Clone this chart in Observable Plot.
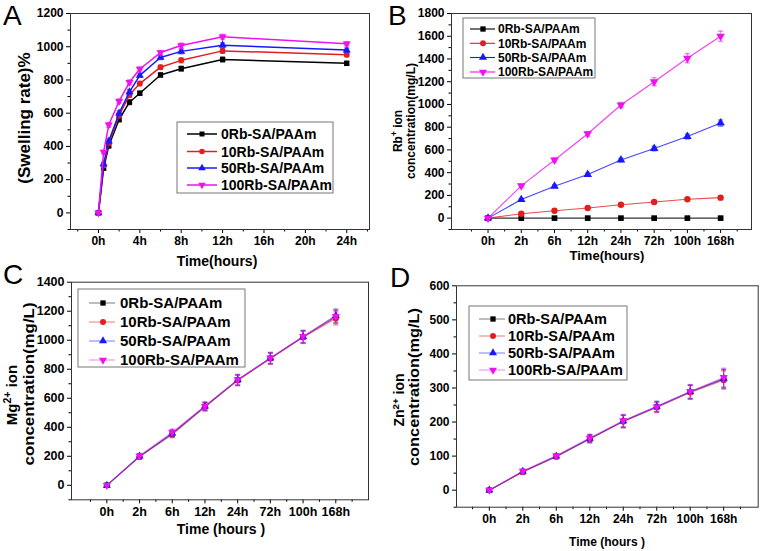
<!DOCTYPE html>
<html><head><meta charset="utf-8">
<script src="https://cdn.jsdelivr.net/npm/d3@7"></script>
<script src="https://cdn.jsdelivr.net/npm/@observablehq/plot@0.6"></script>
<style>
body{margin:0;background:#fff;}
#wrap{position:relative;width:761px;height:551px;overflow:hidden;background:#fff;}
#wrap > svg{position:absolute;}
</style></head><body><div id="wrap"></div>
<script>
// ---------- data ----------
const seriesNames = ["0Rb-SA/PAAm", "10Rb-SA/PAAm", "50Rb-SA/PAAm", "100Rb-SA/PAAm"];
const seriesColors = ["#000000", "#e02020", "#1818ff", "#ee12ee"];

// Panel A: swelling rate (%) vs time (h)
const swellTimes = [0, 0.5, 1, 2, 3, 4, 6, 8, 12, 24];
const swell0   = [0, 268, 404, 562, 666, 720, 830, 868, 923, 900];
const swell10  = [0, 285, 420, 586, 710, 778, 877, 918, 975, 952];
const swell50  = [0, 295, 432, 600, 728, 828, 935, 972, 1009, 980];
const swell100 = [0, 366, 530, 672, 786, 866, 965, 1007, 1060, 1018];
const swellErr = [0, 10, 14, 14, 14, 12, 12, 14, 14, 12];
const swellXTicks = [0, 4, 8, 12, 16, 20, 24];

// Release time categories (B, C, D)
const releaseTimes = ["0h", "2h", "6h", "12h", "24h", "72h", "100h", "168h"];

// Panel B: Rb+ concentration (mg/L)
const rb0   = [0, 0, 0, 0, 0, 0, 0, 0];
const rb10  = [0, 38, 65, 89, 118, 142, 166, 180];
const rb50  = [0, 163, 281, 384, 511, 612, 718, 836];
const rb100 = [0, 284, 511, 742, 995, 1200, 1407, 1600];
const rbErr0   = [0, 0, 0, 0, 0, 0, 0, 0];
const rbErr10  = [0, 6, 6, 6, 8, 10, 12, 16];
const rbErr50  = [0, 10, 12, 12, 15, 20, 22, 28];
const rbErr100 = [0, 14, 18, 20, 22, 35, 40, 45];

// Panel C: Mg2+ concentration (mg/L)
const mg0   = [0, 198, 355, 543, 725, 875, 1022, 1160];
const mg10  = [0, 196, 350, 540, 722, 872, 1020, 1150];
const mg50  = [0, 200, 358, 545, 727, 877, 1025, 1170];
const mg100 = [0, 203, 366, 545, 728, 878, 1026, 1165];
const mgErr = [0, 16, 22, 28, 36, 38, 42, 45];

// Panel D: Zn2+ concentration (mg/L)
const zn0   = [0, 54, 99, 150, 202, 244, 288, 326];
const zn10  = [0, 53, 98, 151, 201, 243, 287, 323];
const zn50  = [0, 55, 100, 152, 203, 246, 289, 328];
const zn100 = [0, 56, 101, 153, 204, 245, 290, 331];
const znErr = [0, 6, 6, 11, 18, 15, 20, 27];

// ---------- helpers ----------
const s3 = Math.sqrt(3);
const triDown = {draw(ctx, size) {
  const y = -Math.sqrt(size / (s3 * 3));
  ctx.moveTo(0, -y * 2); ctx.lineTo(-s3 * y, y); ctx.lineTo(s3 * y, y); ctx.closePath();
}};
const cap = {draw(ctx, size) {
  const w = Math.sqrt(size / Math.PI);
  ctx.moveTo(-w, 0); ctx.lineTo(w, 0);
}};
const symbols = [d3.symbolSquare, d3.symbolCircle, d3.symbolTriangle, triDown];
const range = (a, b, s) => d3.range(a, b + s / 2, s);
const FONT = "'Liberation Sans', Arial, sans-serif";

function panel(cfg) {
  const marks = [
    Plot.axisY({ticks: cfg.yMinor, tickSize: 2.5, tickFormat: () => "", label: null}),
    Plot.axisY({ticks: cfg.yMajor, tickSize: 4, tickPadding: 3, tickFormat: d => String(d), label: null}),
    Plot.axisX({ticks: cfg.xMinor, tickSize: 2.5, tickFormat: () => "", label: null}),
    Plot.axisX({ticks: cfg.xMajor, tickSize: 4, tickPadding: 3, tickFormat: cfg.xFmt, label: null})
  ];
  cfg.series.forEach((vals, k) => {
    const rows = vals.map((v, i) => ({x: cfg.xs[i], y: v, e: cfg.errs[k][i]}));
    const c = seriesColors[k];
    marks.push(Plot.line(rows, {x: "x", y: "y", stroke: c, strokeWidth: cfg.lw, strokeOpacity: cfg.lo}));
    marks.push(Plot.ruleX(rows, {x: "x", y1: d => d.y - d.e, y2: d => d.y + d.e, stroke: c, strokeOpacity: cfg.eo}));
    marks.push(Plot.dot(rows, {x: "x", y: d => d.y + d.e, symbol: cap, r: 2.5, stroke: c, strokeOpacity: cfg.eo}));
    marks.push(Plot.dot(rows, {x: "x", y: d => d.y - d.e, symbol: cap, r: 2.5, stroke: c, strokeOpacity: cfg.eo}));
    marks.push(Plot.dot(rows, {x: "x", y: "y", symbol: symbols[k], r: cfg.r, fill: c, stroke: "none"}));
  });
  marks.push(Plot.frame({stroke: "#333", strokeWidth: 1}));
  const svg = Plot.plot({
    width: cfg.width, height: cfg.height,
    marginLeft: cfg.m[0], marginRight: cfg.m[1], marginTop: cfg.m[2], marginBottom: cfg.m[3],
    x: {type: "linear", domain: cfg.xDomain},
    y: {type: "linear", domain: cfg.yDomain},
    style: {fontFamily: FONT, fontSize: cfg.fs + "px", fontWeight: "bold", color: "#000", background: "transparent", overflow: "visible"},
    marks
  });
  svg.style.left = cfg.left + "px";
  svg.style.top = cfg.top + "px";
  document.getElementById("wrap").appendChild(svg);
}

const idx = releaseTimes.map((d, i) => i);
const catFmt = i => releaseTimes[i];
const halfTicks = range(-0.5, 7.5, 1);

// A
panel({left: 0, top: 0, width: 380, height: 270, m: [70, 11, 13, 41],
  xDomain: [-2.7, 26.2], yDomain: [-100, 1200],
  xMajor: swellXTicks, xMinor: range(-2, 26, 4), xFmt: d => d + "h",
  yMajor: range(0, 1200, 200), yMinor: range(-100, 1100, 200),
  xs: swellTimes, series: [swell0, swell10, swell50, swell100],
  errs: [swellErr, swellErr, swellErr, swellErr], r: 3, lw: 1.5, lo: 1, eo: 0.6, fs: 12});

// B
panel({left: 380, top: 0, width: 381, height: 270, m: [71, 10, 13, 41],
  xDomain: [-1.1, 7.93], yDomain: [-100, 1800],
  xMajor: idx, xMinor: halfTicks, xFmt: catFmt,
  yMajor: range(0, 1800, 200), yMinor: range(-100, 1700, 200),
  xs: idx, series: [rb0, rb10, rb50, rb100],
  errs: [rbErr0, rbErr10, rbErr50, rbErr100], r: 3.2, lw: 1.1, lo: 0.8, eo: 0.5, fs: 12});

// C
panel({left: 0, top: 270, width: 380, height: 281, m: [71, 12, 11.7, 51.7],
  xDomain: [-1.08, 8], yDomain: [-100, 1400],
  xMajor: idx, xMinor: halfTicks, xFmt: catFmt,
  yMajor: range(0, 1400, 200), yMinor: range(-100, 1300, 200),
  xs: idx, series: [mg0, mg10, mg50, mg100],
  errs: [mgErr, mgErr, mgErr, mgErr], r: 3, lw: 1.1, lo: 0.55, eo: 0.4, fs: 12.5});

// D
panel({left: 380, top: 270, width: 381, height: 281, m: [76, 3.3, 15.3, 44.3],
  xDomain: [-0.98, 8.03], yDomain: [-50, 600],
  xMajor: idx, xMinor: halfTicks, xFmt: catFmt,
  yMajor: range(0, 600, 100), yMinor: range(-50, 550, 100),
  xs: idx, series: [zn0, zn10, zn50, zn100],
  errs: [znErr, znErr, znErr, znErr], r: 3, lw: 1.1, lo: 0.55, eo: 0.4, fs: 12});

// ---------- overlay: panel letters, axis titles, legends ----------
const ov = d3.select("#wrap").append("svg")
  .attr("width", 761).attr("height", 551)
  .style("left", "0px").style("top", "0px")
  .attr("font-family", FONT);

[["A", 3, 25], ["B", 388, 25], ["C", 3, 284], ["D", 390, 287]].forEach(([t, x, y]) =>
  ov.append("text").attr("x", x).attr("y", y).attr("font-size", 28).text(t));

function hLabel(t, x, y, fs) {
  ov.append("text").attr("x", x).attr("y", y).attr("text-anchor", "middle")
    .attr("font-size", fs).attr("font-weight", "bold").text(t);
}
hLabel("Time(hours)", 217, 266, 14);
hLabel("Time(hours)", 607, 260, 13);
hLabel("Time (hours )", 221, 534, 14);
hLabel("Time (hours )", 607, 546, 12);

function vLabel(parts, bx, cy, fs, len) {
  const t = ov.append("text").attr("transform", `translate(${bx},${cy}) rotate(-90)`)
    .attr("text-anchor", "middle").attr("font-size", fs).attr("font-weight", "bold");
  if (len) t.attr("textLength", len).attr("lengthAdjust", "spacingAndGlyphs");
  parts.forEach(([s, sup]) => {
    const ts = t.append("tspan").text(s);
    if (sup) ts.attr("font-size", fs * 0.7).attr("baseline-shift", "super");
  });
}
vLabel([["(Swelling rate)%"]], 29.5, 118, 17);
vLabel([["Rb"], ["+", true], [" ion"]], 402, 131, 12);
vLabel([["concentration(mg/L)"]], 415, 121, 12);
vLabel([["Mg"], ["2+", true], [" ion"]], 17, 395, 15);
vLabel([["concentration(mg/L)"]], 33.5, 384, 15, 163);
vLabel([["Zn"], ["2+", true], [" ion"]], 404, 400, 14);
vLabel([["concentration(mg/L)"]], 419, 387, 14, 158);

const paleColors = ["#9a9a9a", "#f09a9a", "#9a9af5", "#f2a2f2"];
function legend(cfg) {
  ov.append("rect").attr("x", cfg.box[0]).attr("y", cfg.box[1])
    .attr("width", cfg.box[2] - cfg.box[0]).attr("height", cfg.box[3] - cfg.box[1])
    .attr("fill", "#fff").attr("stroke", "#777").attr("stroke-width", 1);
  seriesNames.forEach((name, k) => {
    const y = cfg.rows[k];
    ov.append("line").attr("x1", cfg.line[0]).attr("x2", cfg.line[1]).attr("y1", y).attr("y2", y)
      .attr("stroke", cfg.pale ? paleColors[k] : seriesColors[k]).attr("stroke-width", cfg.lw);
    ov.append("path").attr("d", d3.symbol(symbols[k], cfg.r * cfg.r * Math.PI)())
      .attr("transform", `translate(${cfg.marker},${y})`).attr("fill", seriesColors[k]);
    ov.append("text").attr("x", cfg.text).attr("y", y).attr("dy", "0.36em")
      .attr("font-size", cfg.fs).attr("font-weight", "bold").text(name);
  });
}
legend({box: [177, 122, 333, 193], rows: [134, 151.5, 168, 185], line: [187, 217], marker: 202, text: 221, fs: 14, r: 2.8, lw: 1.5});
legend({box: [463, 18, 595, 78], rows: [29, 43.3, 57.5, 72], line: [470, 495], marker: 483, text: 498, fs: 12, r: 3, lw: 1.1});
legend({box: [78, 289, 245, 367], rows: [303, 322, 341, 360], line: [89, 115], marker: 103, text: 120, fs: 15, r: 3, lw: 1.3, pale: true});
legend({box: [469, 306, 627, 380], rows: [319, 336, 353, 370], line: [479, 505], marker: 493, text: 508, fs: 14.5, r: 3, lw: 1.3, pale: true});
</script></body></html>
